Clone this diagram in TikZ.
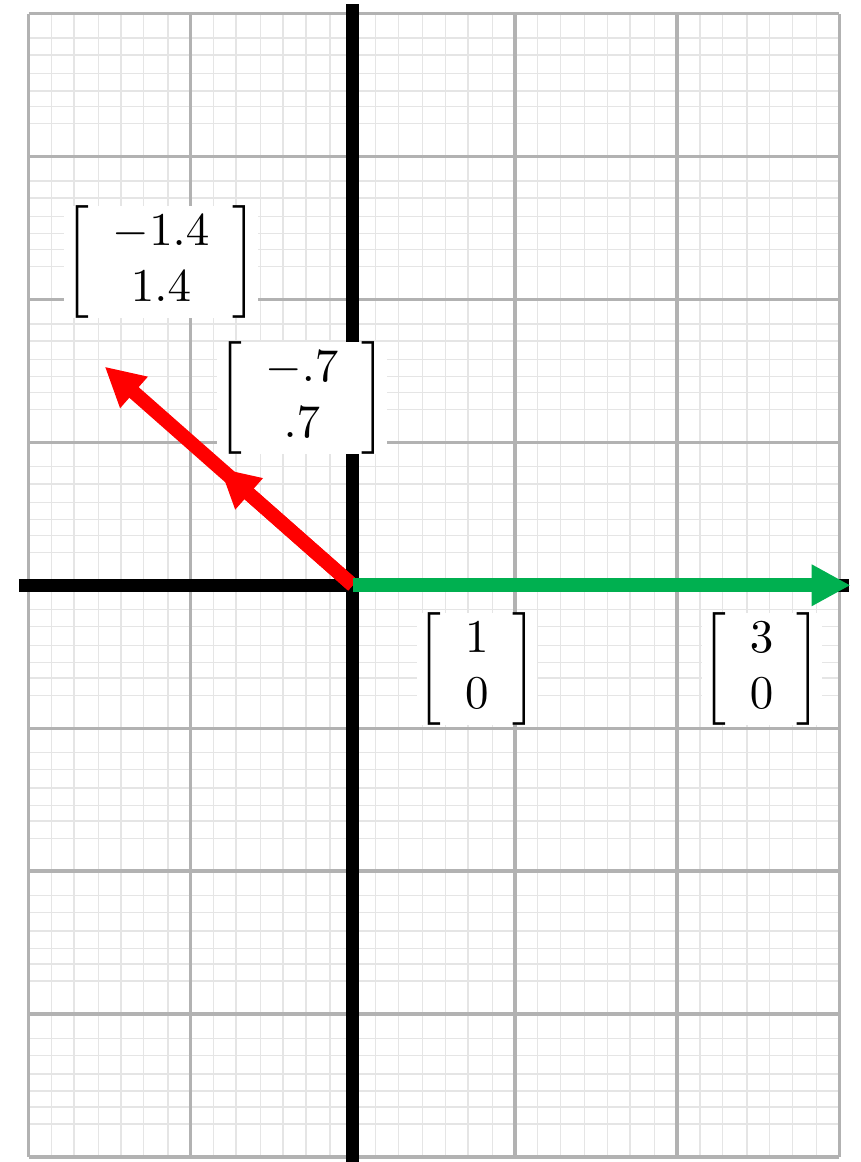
\documentclass[tikz,border=0pt]{standalone}
\usepackage{amsmath}
\usepackage{xcolor}
\usepackage{tikz}
\usetikzlibrary{arrows.meta}
\definecolor{vecgreen}{HTML}{00B050}

\begin{document}
\begin{tikzpicture}[x=1.213cm,y=1.069cm,
    minor/.style={gray!20,line width=0.3pt},
    major/.style={gray!60,line width=0.7pt},
    axis/.style={black,line width=2.8pt},
    vec/.style={line width=3pt,-{Triangle[length=8.3pt,width=8.3pt]}},
    lbl/.style={fill=white,inner sep=0pt}
  ]
    \useasboundingbox (-2.176,-4.036) rectangle (3.133,4.096);
    % fine grid
    \foreach \i in {-2,...,2}
      \foreach \f in {0.14,0.28,0.43,0.57,0.71,0.86}
        \draw[minor] (\i+\f,-4) -- (\i+\f,4);
    \foreach \j in {-4,...,3}
      \foreach \f in {0.23,0.35,0.46,0.58,0.71,0.83}
        \draw[minor] (-2,\j+\f) -- (3,\j+\f);
    % coarse grid
    \foreach \i in {-2,...,3}
      \draw[major] (\i,-4) -- (\i,4);
    \foreach \j in {-4,...,4}
      \draw[major] (-2,\j) -- (3,\j);
    % axes
    \coordinate (o) at (0,0);
    \coordinate (xl) at (-2.06,0);
    \coordinate (xr) at (3.06,0);
    \coordinate (yb) at (0,-4.1);
    \coordinate (yt) at (0,4.07);
    \draw[axis] (xl) -- (xr);
    \draw[axis] (yb) -- (yt);
    % vectors
    \coordinate (u) at (3.07,0);
    \coordinate (v) at (-0.82,0.82);
    \coordinate (w) at (-1.53,1.53);
    \draw[vec,red] (o) -- (w);
    \draw[vec,red] (o) -- (v);
    \draw[vec,vecgreen] (o) -- (u);
    % labels
    \node[lbl] (lw) at (-1.183,2.262) {$\left[\begin{array}{c}-1.4\\1.4\end{array}\right]$};
    \node[lbl] (lv) at (-0.314,1.311) {$\left[\begin{array}{c}-.7\\.7\end{array}\right]$};
    \node[lbl] (le) at (0.765,-0.586) {$\left[\begin{array}{c}1\\0\end{array}\right]$};
    \node[lbl] (lu) at (2.522,-0.586) {$\left[\begin{array}{c}3\\0\end{array}\right]$};
  \end{tikzpicture}
\end{document}
